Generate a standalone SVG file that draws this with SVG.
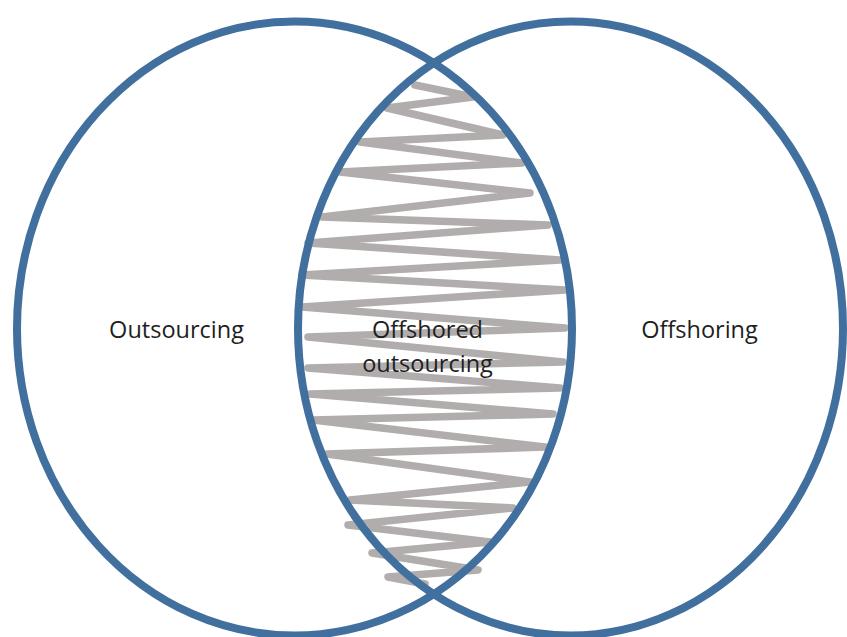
<svg xmlns="http://www.w3.org/2000/svg" width="847" height="637" viewBox="0 0 847 637">
<style>
.set{fill:none;stroke:#41709f;stroke-width:8}
.scribble{fill:none;stroke:#b1adad;stroke-width:7.5;stroke-linejoin:round;stroke-linecap:round}
.lbl{font-family:"Open Sans","Noto Sans",sans-serif;font-size:23.5px;fill:#1e1e1e;text-anchor:middle}
</style>
<rect width="847" height="637" fill="#ffffff"/>
<g id="overlap-hatch">
<path class="scribble" d="M415,85 L473,97 L387,108 L503,135 L360,142 L522,163 L340,172 L530,193 L322,217 L548,225 L308,243 L560,260 L302,275 L565,290 L302,307 L565,328 L308,337 L563,362 L308,368 L560,388 L310,394 L553,414 L313,420 L545,447 L327,454 L530,482 L350,500 L513,508 L348,525 L490,542 L372,553 L478,570 L388,577 L425,584"/>
</g>
<g id="outsourcing">
<ellipse class="set" cx="294.5" cy="328.5" rx="277.5" ry="307"/>
<text class="lbl" x="176.5" y="338">Outsourcing</text>
</g>
<g id="offshoring">
<ellipse class="set" cx="570.5" cy="328.5" rx="272.5" ry="307"/>
<text class="lbl" x="699.5" y="338">Offshoring</text>
</g>
<g id="offshored-outsourcing">
<text class="lbl" x="427.5" y="338">Offshored</text>
<text class="lbl" x="427.5" y="372">outsourcing</text>
</g>
</svg>
